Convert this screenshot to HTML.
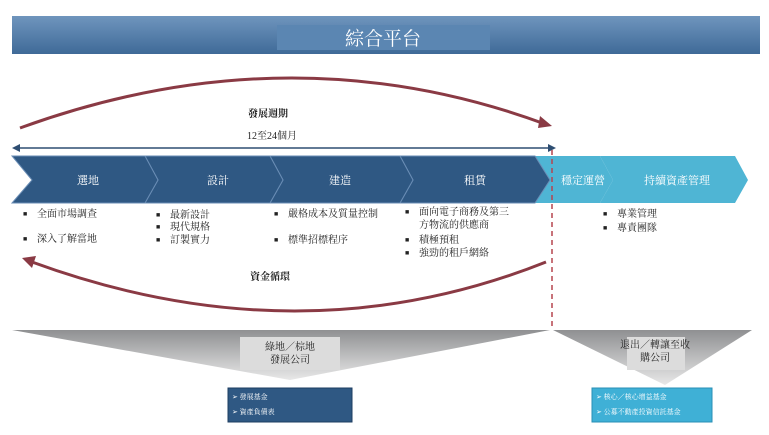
<!DOCTYPE html>
<html><head><meta charset="utf-8"><style>
body{margin:0;width:769px;height:435px;background:#fff;overflow:hidden;font-family:"Liberation Serif","Noto Serif CJK SC","Noto Sans CJK TC",serif;}
svg{position:absolute;left:0;top:0}
.t{position:absolute;font-size:10px;color:#222;line-height:13px}
.b::before{content:"■";font-size:7px;position:absolute;left:-14px}
</style></head><body>
<svg width="769" height="435">
<defs>
<linearGradient id="top" x1="0" y1="0" x2="0" y2="1"><stop offset="0" stop-color="#6f95bd"/><stop offset="1" stop-color="#3f6a98"/></linearGradient>
<linearGradient id="gr" x1="0" y1="0" x2="0" y2="1"><stop offset="0" stop-color="#8f9092"/><stop offset="1" stop-color="#e8e8e8"/></linearGradient>
</defs>
<rect x="12" y="16" width="748" height="38" fill="url(#top)"/>
<rect x="277" y="25" width="213" height="25" fill="#5b86b2"/>
<text x="383" y="45" font-size="19" fill="#fff" text-anchor="middle">綜合平台</text>
<path d="M20,128 Q290,30 545,124" fill="none" stroke="#8a3a44" stroke-width="3"/>
<polygon points="552,126 540,116 538,128" fill="#8a3a44"/>
<line x1="16" y1="148" x2="552" y2="148" stroke="#2e4e72" stroke-width="1.5"/>
<polygon points="12,148 20,144 20,152" fill="#2e4e72"/><polygon points="556,148 548,144 548,152" fill="#2e4e72"/>
<polygon points="600,156 735,156 748,180 735,203 600,203 613,180" fill="#4fb5d4"/>
<polygon points="530,156 600,156 613,180 600,203 530,203" fill="#4fb5d4"/>
<polygon points="400,156 535,156 550,180 535,203 400,203 413,180" fill="#2f5883" stroke="#6a8db5" stroke-width="1"/>
<polygon points="270,156 400,156 413,180 400,203 270,203 283,180" fill="#2f5883" stroke="#6a8db5" stroke-width="1"/>
<polygon points="145,156 270,156 283,180 270,203 145,203 158,180" fill="#2f5883" stroke="#6a8db5" stroke-width="1"/>
<polygon points="12,156 145,156 158,180 145,203 12,203 32,180" fill="#2f5883" stroke="#6a8db5" stroke-width="1"/>
<text x="88" y="184" font-size="11" fill="#fff" text-anchor="middle">選地</text>
<text x="218" y="184" font-size="11" fill="#fff" text-anchor="middle">設計</text>
<text x="340" y="184" font-size="11" fill="#fff" text-anchor="middle">建造</text>
<text x="475" y="184" font-size="11" fill="#fff" text-anchor="middle">租賃</text>
<text x="583" y="184" font-size="11" fill="#fff" text-anchor="middle">穩定運營</text>
<text x="677" y="184" font-size="11" fill="#fff" text-anchor="middle">持續資產管理</text>
<path d="M546,262 Q300,360 32,262" fill="none" stroke="#8a3a44" stroke-width="3"/>
<polygon points="22,258 36,256 32,268" fill="#8a3a44"/>
<line x1="552" y1="150" x2="552" y2="330" stroke="#b5454f" stroke-width="1.5" stroke-dasharray="5,4"/>
<polygon points="12,330 550,330 290,380" fill="url(#gr)"/>
<polygon points="553,330 752,330 665,385" fill="url(#gr)"/>
<rect x="240" y="337" width="100" height="33" fill="#dcdcdc"/>
<rect x="627" y="337" width="58" height="33" fill="#dcdcdc"/>
<rect x="228" y="388" width="124" height="34" fill="#2f5883" stroke="#1e3e60"/>
<rect x="592" y="388" width="120" height="34" fill="#3fb0d6" stroke="#2a8fb5"/>
<text x="232" y="399" font-size="7" fill="#fff">➢  發展基金</text>
<text x="232" y="414" font-size="7" fill="#fff">➢  資產負債表</text>
<text x="596" y="399" font-size="7" fill="#fff">➢  核心／核心增益基金</text>
<text x="596" y="414" font-size="7" fill="#fff">➢  公募不動產投資信託基金</text>
</svg>
<div class="t" style="left:248px;top:108px;font-weight:bold">發展週期</div>
<div class="t" style="left:247px;top:130px">12至24個月</div>
<div class="t" style="left:250px;top:271px;font-weight:bold">資金循環</div>
<div class="t b" style="left:37px;top:208px">全面市場調查</div>
<div class="t b" style="left:37px;top:233px">深入了解當地</div>
<div class="t b" style="left:170px;top:209px">最新設計</div>
<div class="t b" style="left:170px;top:221px">現代規格</div>
<div class="t b" style="left:170px;top:234px">訂製實力</div>
<div class="t b" style="left:288px;top:208px">嚴格成本及質量控制</div>
<div class="t b" style="left:288px;top:234px">標準招標程序</div>
<div class="t b" style="left:419px;top:206px">面向電子商務及第三<br>方物流的供應商</div>
<div class="t b" style="left:419px;top:234px">積極預租</div>
<div class="t b" style="left:419px;top:247px">強勁的租戶網絡</div>
<div class="t b" style="left:617px;top:208px">專業管理</div>
<div class="t b" style="left:617px;top:222px">專責團隊</div>
<div class="t" style="left:255px;top:341px;text-align:center;width:70px">綠地／棕地<br>發展公司</div>
<div class="t" style="left:605px;top:339px;text-align:center;width:100px">退出／轉讓至收<br>購公司</div>
</body></html>
